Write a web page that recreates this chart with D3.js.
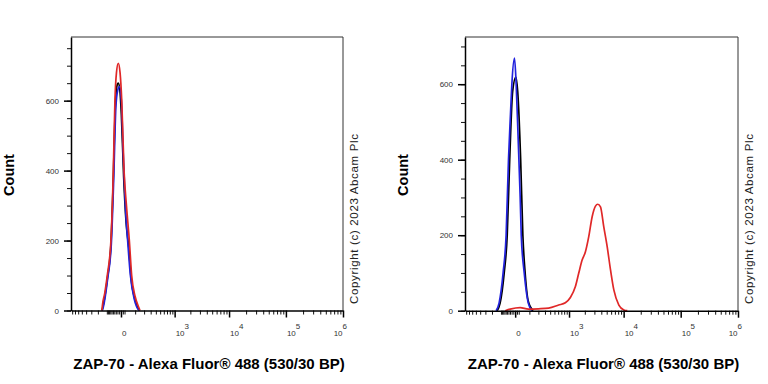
<!DOCTYPE html>
<html>
<head>
<meta charset="utf-8">
<script src="https://cdn.jsdelivr.net/npm/d3@7"></script>
<style>
body { margin: 0; background: #fff; }
svg { display: block; font-family: "Liberation Sans", Arial, sans-serif; }
</style>
</head>
<body>
<svg id="chart" width="768" height="384"></svg>
<script>
// x axis ticks (logicle-like display)
const xMajorTicks = [0, 1e3, 1e4, 1e5, 1e6];
const xMajorExp = ["", "3", "4", "5", "6"];
const yMajorTicks = [0, 200, 400, 600];

// left panel: three overlapping histograms near zero
const leftBlackX = [-150, -140, -96, -65, -47, -34, -24, -15, -6, 2, 15, 30, 48, 66, 100, 125, 145];
const leftBlackY = [0, 10, 90, 190, 380, 580, 640, 650, 630, 560, 380, 250, 180, 90, 30, 8, 0];
const leftBlueX = [-146, -135, -93, -62, -44, -30, -18, -8, 2, 12, 25, 40, 60, 90, 115, 140];
const leftBlueY = [0, 10, 90, 190, 380, 580, 630, 640, 600, 450, 300, 200, 100, 35, 10, 0];
const leftRedX = [-150, -146, -120, -96, -65, -47, -36, -26, -15, -5, 4, 17, 32, 52, 70, 100, 131, 150];
const leftRedY = [0, 12, 50, 100, 200, 400, 600, 680, 707, 680, 600, 400, 300, 200, 100, 40, 12, 0];

// right panel: controls near zero, stained sample shifted up
const rightBlackX = [-138, -108, -72, -49, -32, -14, 3.7, 14, 32, 47, 64, 90, 138];
const rightBlackY = [0, 20, 100, 200, 400, 580, 619, 580, 400, 200, 100, 25, 0];
const rightBlueX = [-150, -118, -81, -57, -40, -27, -18.5, -3.7, 5.3, 17, 29, 36, 57, 90, 125];
const rightBlueY = [0, 20, 100, 200, 400, 520, 600, 669, 600, 450, 300, 200, 100, 20, 0];
const rightRedX = [-64, -29, 29, 92, 202, 368, 614, 845, 1063, 1330, 1537, 1782, 2054, 2365,
    2731, 3138, 3455, 3866, 4435, 5108, 5851, 6702, 8229, 10093, 11600];
const rightRedY = [0, 4, 8, 4, 5, 7, 15, 21, 35, 64, 99, 134, 156, 196,
    249, 277, 282, 275, 222, 169, 108, 55, 15, 2, 0];

const xTitle = "ZAP-70 - Alexa Fluor® 488 (530/30 BP)";
const copyright = "Copyright (c) 2023 Abcam Plc";

const svg = d3.select("#chart");

/**
 * minor tick values for the x axis
 */
function xMinorTicks() {
    let t = [];
    d3.range(-800, 0, 100).forEach(v => t.push(v));
    d3.range(-90, 30, 10).forEach(v => { if (v !== 0) t.push(v); });
    [100, 1000, 10000, 100000].forEach(dec => {
        for (let m = (dec === 100 ? 1 : 2); m <= 9; m++) t.push(m * dec);
    });
    return t;
}

/**
 * draws one histogram panel
 */
function drawPanel(p) {
    let g = svg.append("g");
    let x = d3.scaleSymlog().constant(130)
        .domain([-845, 1e6])
        .range([p.x0, p.x1]);
    let y = d3.scaleLinear()
        .domain([0, p.yMax])
        .range([p.yBottom, p.yTop]);

    // frame top and right
    g.append("path")
        .attr("d", "M" + p.x0 + "," + p.yTop + "H" + p.x1 + "V" + p.yBottom)
        .attr("fill", "none")
        .attr("stroke", "#333")
        .attr("stroke-width", 1);

    // curves
    let line = d3.line()
        .x(d => x(d[0]))
        .y(d => y(d[1]))
        .curve(d3.curveMonotoneX);
    p.series.forEach(s => {
        g.append("path")
            .datum(d3.zip(s.xs, s.ys))
            .attr("d", line)
            .attr("fill", "none")
            .attr("stroke", s.color)
            .attr("stroke-width", 1.7)
            .attr("stroke-linejoin", "round");
    });

    // x axis
    let xMinor = g.append("g")
        .attr("transform", "translate(0," + p.yBottom + ")")
        .call(d3.axisBottom(x).tickValues(xMinorTicks()).tickSize(4).tickFormat(""));
    xMinor.select(".domain").remove();
    xMinor.selectAll(".tick line").attr("stroke", "#111").attr("stroke-width", 1);
    let xMajor = g.append("g")
        .attr("transform", "translate(0," + p.yBottom + ")")
        .call(d3.axisBottom(x).tickValues(xMajorTicks).tickSize(7).tickSizeOuter(0).tickFormat(""));
    xMajor.select(".domain").attr("stroke", "#000").attr("stroke-width", 1.5);
    xMajor.selectAll(".tick line").attr("stroke", "#000").attr("stroke-width", 1.5);

    xMajorTicks.forEach((v, i) => {
        let last = i === xMajorTicks.length - 1;
        let t = g.append("text")
            .attr("x", last ? x(v) + 4 : x(v) + 1)
            .attr("y", p.yBottom + 25)
            .attr("text-anchor", last ? "end" : "start")
            .attr("font-size", 8)
            .attr("fill", "#333");
        if (xMajorExp[i] === "") {
            t.text("0");
        } else {
            t.append("tspan").text("10");
            t.append("tspan").attr("dy", -7).attr("font-size", 8).text(xMajorExp[i]);
        }
    });

    // y axis
    let yMinor = g.append("g")
        .attr("transform", "translate(" + p.x0 + ",0)")
        .call(d3.axisLeft(y).tickValues(d3.range(0, p.yMax, 50)).tickSize(4).tickFormat(""));
    yMinor.select(".domain").remove();
    yMinor.selectAll(".tick line").attr("stroke", "#111").attr("stroke-width", 1);
    let yMajor = g.append("g")
        .attr("transform", "translate(" + p.x0 + ",0)")
        .call(d3.axisLeft(y).tickValues(yMajorTicks).tickSize(7).tickSizeOuter(0).tickPadding(5));
    yMajor.select(".domain").attr("stroke", "#000").attr("stroke-width", 1.5);
    yMajor.selectAll(".tick line").attr("stroke", "#000").attr("stroke-width", 1.5);
    yMajor.selectAll(".tick text")
        .attr("font-family", "Liberation Sans, Arial, sans-serif")
        .attr("font-size", 8)
        .attr("fill", "#333");

    // titles
    g.append("text")
        .attr("transform", "translate(" + (p.x0 - 57) + ",175) rotate(-90)")
        .attr("text-anchor", "middle")
        .attr("font-size", 14.5)
        .attr("font-weight", "bold")
        .text("Count");
    g.append("text")
        .attr("x", (p.x0 + p.x1) / 2 + 2)
        .attr("y", 369)
        .attr("text-anchor", "middle")
        .attr("font-size", 15)
        .attr("font-weight", "bold")
        .text(xTitle);
    g.append("text")
        .attr("transform", "translate(" + (p.x1 + 15) + ",304) rotate(-90)")
        .attr("font-size", 11.5)
        .attr("textLength", 170)
        .attr("lengthAdjust", "spacing")
        .attr("fill", "#222")
        .text(copyright);
}

drawPanel({
    x0: 71, x1: 343, yTop: 37, yBottom: 310.5, yMax: 782,
    series: [
        {xs: leftBlackX, ys: leftBlackY, color: "#000000"},
        {xs: leftBlueX, ys: leftBlueY, color: "#2222dd"},
        {xs: leftRedX, ys: leftRedY, color: "#e02828"}
    ]
});
drawPanel({
    x0: 465, x1: 738, yTop: 37, yBottom: 310.7, yMax: 725,
    series: [
        {xs: rightBlackX, ys: rightBlackY, color: "#000000"},
        {xs: rightBlueX, ys: rightBlueY, color: "#2222dd"},
        {xs: rightRedX, ys: rightRedY, color: "#e02828"}
    ]
});
</script>
</body>
</html>
